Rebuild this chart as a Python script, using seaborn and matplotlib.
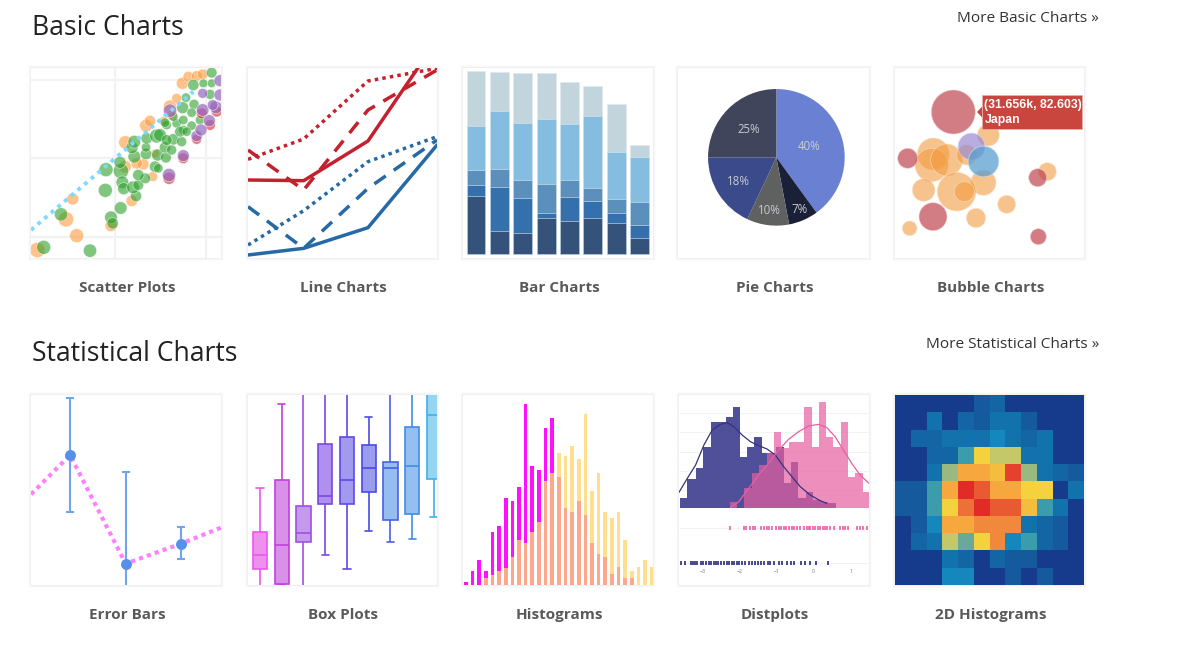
import numpy as np
import pandas as pd
import matplotlib
matplotlib.use("Agg")
import matplotlib.pyplot as plt
from matplotlib.colors import LinearSegmentedColormap
from matplotlib.patches import Rectangle, Polygon
import seaborn as sns

sns.set_theme(style="white")
plt.rcParams['font.family'] = ['Open Sans', 'DejaVu Sans']

# ---------- page text ----------
section_titles = ["Basic Charts", "Statistical Charts"]
more_links = ["More Basic Charts »", "More Statistical Charts »"]
captions_top = ["Scatter Plots", "Line Charts", "Bar Charts", "Pie Charts", "Bubble Charts"]
captions_bottom = ["Error Bars", "Box Plots", "Histograms", "Distplots", "2D Histograms"]

# ---------- scatter (x, y, radius) ----------
sc_orange = [(52,570,20),(170,527,18),(138,478,20),(158,417,15),(273,497,15),(335,423,14),(398,350,12),
             (370,313,14),(350,310,14),(315,320,16),(316,247,17),(378,197,16),(390,183,14),(430,183,10),
             (450,140,17),(470,115,12),(487,70,15),(505,50,13),(530,48,13),(548,43,13),(455,165,13),(405,280,10)]
sc_green = [(71,562,17),(123,463,16),(210,572,16),(273,472,15),(278,490,13),(302,444,15),(256,391,17),
            (348,408,13),(258,329,17),(303,333,19),(300,307,14),(307,367,15),(311,386,14),(339,382,15),
            (355,375,12),(376,355,12),(355,345,13),(343,290,15),(336,263,14),(343,245,15),(378,282,13),
            (378,262,10),(405,320,13),(415,325,10),(413,285,14),(438,293,12),(435,262,13),(455,270,11),
            (460,238,13),(485,245,11),(380,235,13),(410,228,17),(420,225,15),(440,195,10),(435,188,10),
            (470,190,10),(490,180,10),(490,210,10),(515,197,10),(480,215,12),(500,215,10),(488,143,14),
            (522,133,11),(515,158,10),(498,113,10),(540,180,10),(520,75,13),(575,70,9),(550,70,9),
            (570,103,11),(575,38,12),(440,240,12),(460,170,10)]
sc_red = [(447,355,15),(490,295,13),(530,238,12),(570,195,13),(545,160,13),(590,155,13)]
sc_purple = [(447,345,16),(490,287,14),(530,228,13),(543,210,14),(568,182,14),(450,152,16),(548,150,15),
             (588,142,15),(548,100,11),(600,105,14),(600,62,14),(578,135,12)]
sc_line_x = [33, 520]
sc_line_y = [510, 95]

# ---------- lines ----------
ln_x = [683, 850, 1043, 1250]
ln_red_solid = [360, 362, 243, -60]
ln_red_dash = [270, 390, 150, 30]
ln_red_dot = [298, 237, 63, 25]
ln_blue_solid = [585, 565, 503, 255]
ln_blue_dash = [440, 565, 385, 240]
ln_blue_dot = [555, 452, 305, 230]

# ---------- stacked bars (cumulative heights) ----------
bar_cats = list("ABCDEFGH")
bar_dark = [58, 23, 21, 36, 33, 36, 31, 16]
bar_blue = [69, 67, 56, 41, 57, 53, 41, 29]
bar_mid = [84, 85, 74, 70, 74, 66, 55, 52]
bar_light = [128, 143, 131, 135, 130, 138, 102, 97]
bar_grey = [183, 182, 181, 181, 172, 168, 150, 109]

# ---------- pie ----------
pie_vals = [40, 7, 10, 18, 25]
pie_cols = ["#6a80d2", "#1a2038", "#5f6060", "#3a4a8a", "#41455c"]
pie_label_dist = [0.51, 0.84, 0.78, 0.66, 0.58]

# ---------- bubbles ----------
bb_red = [(205,156,66),(68,295,30),(144,470,42),(458,353,27),(460,530,24)]
bb_orange = [(145,282,48),(140,315,50),(185,300,48),(310,225,33),(245,285,30),(295,368,38),(215,395,58),
             (238,395,30),(116,390,34),(74,505,22),(273,474,29),(365,433,27),(487,335,27)]
bb_purple = [(258,257,40)]
bb_blue = [(293,303,46)]
tooltip_lines = ["(31.656k, 82.603)", "Japan"]

# ---------- error bars ----------
err_x = [150, 317, 483]
err_y = [210, 536, 476]
err_top = [40, 262, 427]
err_bot = [380, 640, 523]
err_line_x = [33, 150, 317, 483, 603]
err_line_y = [328, 210, 536, 476, 428]

# ---------- box plots: low whisker, q1, median, q3, high whisker ----------
box_cats = list("abcdefghi")
box_stats = [[620,551,510,442,310],[601,598,479,286,58],[640,470,443,363,-30],[510,357,333,177,-30],
             [551,357,284,157,-30],[439,321,248,180,96],[470,404,248,232,-30],[463,386,243,127,-30],
             [397,282,90,-20,-100]]
box_edges = ["#ee55ee","#c23ee0","#a050e0","#7a48e0","#6048e8","#4a4ae8","#4860e8","#3f8ce8","#40b0e8"]
box_fills = ["#ee90ee","#d890e8","#c49aec","#b090ee","#a29aef","#9a9cee","#95bdf0","#95bff0","#95d5f0"]

# ---------- histogram bar tops ----------
hist_cats = [str(i) for i in range(29)]
hist_a = [590,558,526,558,442,422,338,348,307,57,244,255,130,98,276,369,380,348,390,474,506,516,568,547,578,578,600,600,600]
hist_b = [600,600,600,579,569,558,548,516,464,474,442,411,287,265,203,213,182,223,88,317,265,380,400,380,464,558,547,526,547]

# ---------- distplot ----------
dp_navy_edges = [27,50,75,97,120,142,165,187,209,230,252,274,296,318,340,362,384,407,429,451,473,497]
dp_navy_tops = [340,282,248,187,112,112,95,67,217,187,157,205,205,187,295,232,340,320,345,350,353]
dp_pink_edges = [180,200,222,245,267,289,311,333,357,380,402,424,446,468,490,513,533,556,578,597]
dp_pink_tops = [350,368,308,263,240,205,140,188,172,172,67,187,50,157,187,112,277,263,322]
dp_navy_curve_x = [25,50,75,100,125,150,170,190,215,240,265,290,315,340,365,390,420,450,470]
dp_navy_curve_y = [322,280,240,180,135,118,113,125,150,170,182,192,210,245,275,305,330,347,355]
dp_pink_curve_x = [180,205,235,265,295,325,355,385,415,445,470,495,520,545,570,597]
dp_pink_curve_y = [368,350,310,270,235,195,163,140,123,118,128,155,195,235,270,295]
dp_rug_pink = [178,222,228,240,248,255,272,280,290,297,305,318,325,332,340,348,356,365,372,380,390,400,
               410,415,420,428,435,442,450,458,465,472,480,492,510,518,526,534,560,570,580,592]
dp_rug_navy = [30,42,60,66,72,80,90,98,106,114,122,130,136,142,152,160,168,176,184,192,200,206,214,225,
               236,245,255,262,272,282,292,300,310,325,335,350,362,372,392,405,418,438,475]
dp_ticks = [97, 208, 320, 430, 543]
dp_tick_labels = ["−3", "−2", "−1", "0", "1"]

# ---------- 2D histogram ----------
heat = [[0,0,0,0,0,1,1.5,0,0,0,0,0],
        [0,0,2,0,1.5,1,2,2,1,0,0,0],
        [0,1.5,1.5,2,2,2,3,2,1.5,2,0,0],
        [0,0,1.5,1.5,4,7,6,6,2,2,0,0],
        [0,0,2,5.5,8,8,7.5,10.5,5.5,2,1.5,1],
        [1,1,4,8,11,10,8,8,7,7,0,2],
        [1,1,4,7,9.5,11,10,10,7.5,4,2,0],
        [0,1,3,8,8,9,9,9,2,1.5,1,0],
        [0,1.5,2,6,5,7,9,3,4,1.5,1,0],
        [0,0,0,2,1.5,0,1.5,1,1,0,0,0],
        [0,0,0,3,3,0,0,1,0,1,0,0]]
heat_colors = ["#163a8c","#155a9c","#1172ac","#1488bd","#3a9cac","#6aa89a","#c4c868",
               "#f4d23c","#f6a83e","#f08a3c","#ea5a32","#e02b26"]

# ---------- page ----------
W, H = 1200, 648
fig = plt.figure(figsize=(W/100, H/100), dpi=100, facecolor="white")


def panel(x0, y0, x1, y1):
    for grow, alpha in [(3, .025), (2, .04), (1, .06)]:
        fig.patches.append(Rectangle(((x0-grow)/W, 1-(y1+grow)/H), (x1-x0+2*grow)/W, (y1-y0+2*grow)/H,
                                     transform=fig.transFigure, fc="#888888", ec="none", alpha=alpha,
                                     zorder=-5))
    ax = fig.add_axes([x0/W, 1-y1/H, (x1-x0)/W, (y1-y0)/H])
    ax.set_facecolor("white")
    return ax


def pts(rad):
    return (0.48*np.asarray(rad, float))**2


def bubbles(ax, rows, color, alpha, ec="white", lw=.5, grow=0):
    a = np.array(rows, float)
    sns.scatterplot(x=a[:, 0], y=a[:, 1], s=pts(a[:, 2]+grow), color=color, alpha=alpha,
                    edgecolor=ec, linewidth=lw, ax=ax, legend=False)


# scatter
ax1 = panel(31, 68, 221, 258)
for v in [285, 558]:
    ax1.axvline(v, color="#f2f2f2", lw=1.6, zorder=0)
for h in [60, 295, 530]:
    ax1.axhline(h, color="#f2f2f2", lw=1.6, zorder=0)
sns.lineplot(x=sc_line_x, y=sc_line_y, color="#80d8ff", lw=2.8, linestyle=(0, (1, 1.25)), ax=ax1)
bubbles(ax1, sc_orange, "#ff9a3c", .6, grow=3)
bubbles(ax1, sc_green, "#2ca02c", .6, grow=4)
bubbles(ax1, sc_red, "#d62728", .6, grow=3)
bubbles(ax1, sc_purple, "#9467bd", .7, grow=4)
ax1.set(xlim=(33, 603), ylim=(594, 24))

# lines
ax2 = panel(248, 68, 437, 258)
for ys, col, style in [(ln_red_solid, "#c4202e", "-"), (ln_red_dash, "#c4202e", (0, (4, 2.8))),
                       (ln_red_dot, "#c4202e", (0, (1, 1.2))), (ln_blue_solid, "#2569a5", "-"),
                       (ln_blue_dash, "#2569a5", (0, (4, 2.8))), (ln_blue_dot, "#2569a5", (0, (1, 1.2)))]:
    sns.lineplot(x=ln_x, y=ys, color=col, lw=2.5, linestyle=style, ax=ax2, sort=False, estimator=None)
ax2.set(xlim=(683, 1250), ylim=(594, 24))

# stacked bars
ax3 = panel(463, 68, 653, 258)
for vals, col in [(bar_grey, "#c2d4dc"), (bar_light, "#84bde0"), (bar_mid, "#5a90bb"),
                  (bar_blue, "#3470ab"), (bar_dark, "#34527a")]:
    sns.barplot(x=bar_cats, y=vals, color=col, width=.81, saturation=1, errorbar=None, ax=ax3,
                edgecolor="#dfe9ee", linewidth=.4)
ax3.set(xlim=(-.555, 7.57), ylim=(-4, 186))

# pie
ax4 = panel(678, 68, 869, 258)
wedges, _ = ax4.pie(pie_vals, colors=pie_cols, startangle=90, counterclock=False, radius=1,
                    wedgeprops=dict(linewidth=0))
ax4.set_frame_on(True)
cum = np.cumsum([0] + pie_vals)
for i, v in enumerate(pie_vals):
    ang = np.deg2rad((cum[i]+v/2)*3.6)
    ax4.text(pie_label_dist[i]*np.sin(ang), pie_label_dist[i]*np.cos(ang), f"{v}%", color="#c9cbd2",
             ha="center", va="center", fontsize=8.3)
ax4.set_xlim(-1.44, 1.356)
ax4.set_ylim(-1.473, 1.307)

# bubbles
ax5 = panel(895, 68, 1084, 258)
bubbles(ax5, bb_orange, "#f39b3f", .6, "#fbe3c8", .6)
bubbles(ax5, bb_red, "#bd3f4a", .68, "#f0d0d0", .6)
bubbles(ax5, bb_purple, "#9a8ad0", .7, "#d8d0f0", .6)
bubbles(ax5, bb_blue, "#5a9fd0", .75, "#c8e0f0", .6)
ax5.add_patch(Rectangle((291, 104), 299, 104, fc="#c8463e", ec="#e8b0a8", lw=.5, zorder=5))
ax5.add_patch(Polygon([[291, 140], [276, 156], [291, 172]], fc="#c8463e", ec="none", zorder=5))
for ty, line in zip([135, 180], tooltip_lines):
    ax5.text(298, ty, line, color="white", fontsize=8.8, fontfamily="Liberation Sans", fontweight="bold",
             va="center", ha="left", zorder=6)
ax5.set(xlim=(30, 597), ylim=(594, 24))

# error bars
ax6 = panel(31, 395, 221, 585)
sns.lineplot(x=err_line_x, y=err_line_y, color="#ff80ff", lw=3, linestyle=(0, (1, 1)), ax=ax6, sort=False,
             estimator=None)
ex, ey = np.array(err_x), np.array(err_y)
ax6.errorbar(ex, ey, yerr=[ey-np.array(err_top), np.array(err_bot)-ey], fmt="none", ecolor="#6ea5ec",
             elinewidth=1.5, capsize=3, capthick=1.5)
sns.scatterplot(x=err_x, y=err_y, s=62, color="#5590ea", linewidth=0, ax=ax6, zorder=4)
ax6.set(xlim=(33, 603), ylim=(600, 30))

# box plots
ax7 = panel(248, 395, 437, 585)
for cat, stats, edge, fill in zip(box_cats, box_stats, box_edges, box_fills):
    vals = (600-np.array(stats, float))/3
    sns.boxplot(x=[cat]*5, y=vals, order=box_cats, color=fill, linecolor=edge, linewidth=1.2, width=.66,
                whis=(0, 100), saturation=1, fliersize=0, ax=ax7)
ax7.set(xlim=(-.55, 8.14), ylim=(0, 190))

# histograms
ax8 = panel(463, 395, 653, 585)
ha = (600-np.array(hist_a, float))/3
hb = (600-np.array(hist_b, float))/3
for vals, col in [(ha, "#ff10ff"), (hb, "#ffdf8e"), (np.minimum(ha, hb), "#ffa78c")]:
    sns.barplot(x=hist_cats, y=vals, color=col, width=.55, saturation=1, errorbar=None, ax=ax8, linewidth=0)
ax8.set(xlim=(-.45, 28.2), ylim=(0, 190))

# distplot (heights measured up from the histogram baseline at 368)
ax9 = panel(679, 395, 869, 585)
for yy in [-60, -165, 52, 110, 168, 226, 284]:
    ax9.axhline(yy, color="#f3f3f3", lw=.7, zorder=0)
ne, pe = np.array(dp_navy_edges, float), np.array(dp_pink_edges, float)
sns.histplot(x=(ne[:-1]+ne[1:])/2, weights=368-np.array(dp_navy_tops, float), bins=dp_navy_edges, color="#50509a",
             alpha=1, linewidth=0, ax=ax9)
sns.histplot(x=(pe[:-1]+pe[1:])/2, weights=368-np.array(dp_pink_tops, float), bins=dp_pink_edges, color="#e75fa2",
             alpha=.7, linewidth=0, ax=ax9)
sns.lineplot(x=dp_navy_curve_x, y=368-np.array(dp_navy_curve_y), color="#33337f", lw=.9, ax=ax9)
sns.lineplot(x=dp_pink_curve_x, y=368-np.array(dp_pink_curve_y), color="#e75fa2", lw=.9, ax=ax9)
sns.scatterplot(x=dp_rug_pink, y=[-60]*len(dp_rug_pink), marker="|", s=12, color="#e860a8", linewidth=1.2, ax=ax9)
sns.scatterplot(x=dp_rug_navy, y=[-165]*len(dp_rug_navy), marker="|", s=12, color="#2a2a80", linewidth=1.2, ax=ax9)
for t, lab in zip(dp_ticks, dp_tick_labels):
    ax9.text(t, -192, lab, fontsize=3.8, color="#777777", ha="center", va="center")
ax9.set(xlim=(25, 597), ylim=(-232, 338))

# 2D histogram
ax10 = panel(895, 395, 1084, 585)
cmap = LinearSegmentedColormap.from_list("heat", heat_colors)
sns.heatmap(pd.DataFrame(heat), cmap=cmap, vmin=0, vmax=11, cbar=False, ax=ax10, linewidths=0)

for ax in fig.axes:
    ax.set_xlabel("")
    ax.set_ylabel("")
    ax.set_xticks([])
    ax.set_yticks([])
    for s in ax.spines.values():
        s.set_visible(False)

# page text
for y, title in zip([28, 354], section_titles):
    fig.text(32/W, 1-y/H, title, fontsize=19.1, color="#222222", va="center", ha="left")
for y, link in zip([18, 344], more_links):
    fig.text(1099/W, 1-y/H, link, fontsize=11.1, color="#333333", va="center", ha="right")
for y, caps in zip([288, 615], [captions_top, captions_bottom]):
    for x, c in zip([127, 343, 559, 775, 991], caps):
        fig.text(x/W, 1-y/H, c, fontsize=11, color="#595959", fontweight="bold", va="center", ha="center")

fig.savefig("out.png", dpi=100, facecolor="white")
